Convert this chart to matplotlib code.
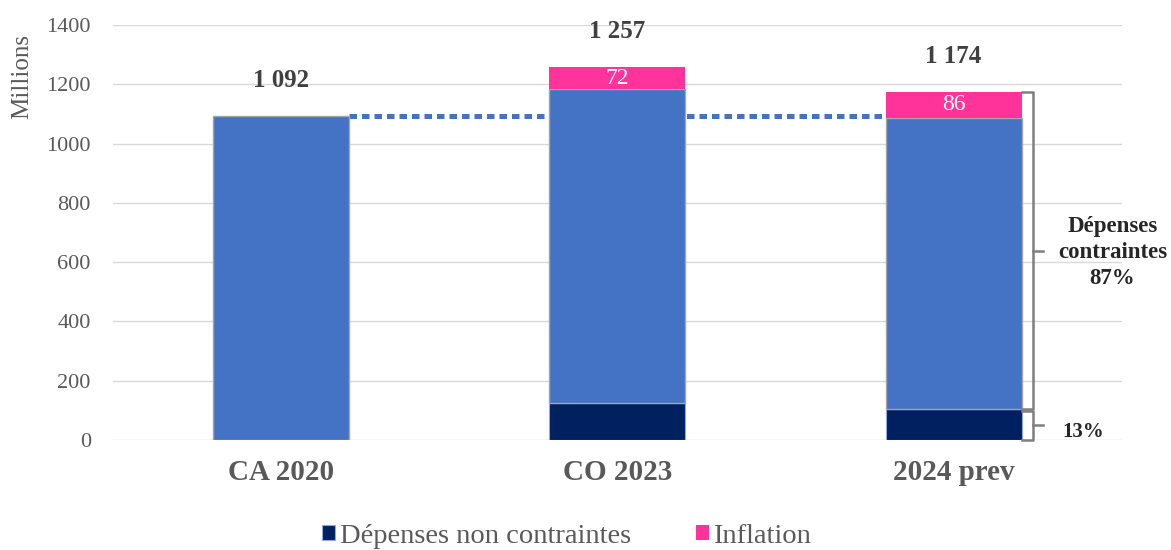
import matplotlib.pyplot as plt
import numpy as np

# données (millions)
categories = ["CA 2020", "CO 2023", "2024 prev"]
non_contraintes = [0, 125, 103]
contraintes = [1092, 1060, 985]
inflation = [0, 72, 86]
totaux = [1092, 1257, 1174]
labels_totaux = ["1 092", "1 257", "1 174"]
part_contraintes = "87%"
part_non_contraintes = "13%"

BLEU = "#4472C4"
MARINE = "#002060"
ROSE = "#FF3399"
GRIS = "#595959"

plt.rcParams['font.family'] = ['Liberation Serif', 'DejaVu Serif']

fig = plt.figure(figsize=(11.71, 5.5), dpi=100)
ax = fig.add_axes([0.0965, 0.2, 0.8615, 0.7545])

x = np.arange(len(categories))
w = 0.404
base = np.array(non_contraintes)
b1 = ax.bar(x, non_contraintes, w, color=MARINE, edgecolor="#8EA9DB", linewidth=0.8,
            label="Dépenses non contraintes", zorder=3)
b2 = ax.bar(x, contraintes, w, bottom=base, color=BLEU, edgecolor="#A6A6A6", linewidth=1,
            zorder=3)
b3 = ax.bar(x, inflation, w, bottom=base + np.array(contraintes), color=ROSE,
            linewidth=0, label="Inflation", zorder=3)

# ligne pointillée au niveau de 2020
ax.plot([x[0] + w / 2, x[2] - w / 2 + 0.02], [totaux[0], totaux[0]], color=BLEU,
        lw=3.6, linestyle=(0, (1.5, 1)), dash_capstyle='butt', zorder=2)

# étiquettes
for i in range(len(categories)):
    ax.text(x[i], totaux[i] + 120, labels_totaux[i], ha='center', va='center',
            fontsize=18, fontweight='bold', color="#404040")
    if inflation[i] > 0:
        ax.text(x[i], base[i] + contraintes[i] + inflation[i] / 2, str(inflation[i]),
                ha='center', va='center', fontsize=17, color='white')

# accolades sur 2024
i = 2
xr = x[i] + w / 2
xb = xr + 0.035
haut = totaux[i]
bas = non_contraintes[i]
ax.plot([xr, xb, xb, xr], [haut, haut, bas, bas], color="#7F7F7F", lw=1.8, zorder=4,
        clip_on=False)
ax.plot([xb, xb + 0.03], [(haut + bas) / 2] * 2, color="#7F7F7F", lw=1.8, clip_on=False)
ax.plot([xr, xb, xb, xr], [bas - 5, bas - 5, 0, 0], color="#7F7F7F", lw=1.8, zorder=4,
        clip_on=False)
ax.plot([xb, xb + 0.03], [bas / 2, bas / 2], color="#7F7F7F", lw=1.8, clip_on=False)
ax.text(xb + 0.235, (haut + bas) / 2 - 5, "Dépenses\ncontraintes\n" + part_contraintes,
        ha='center', va='center', fontsize=16.5, fontweight='bold', color="#262626",
        linespacing=1.3, clip_on=False)
ax.text(xb + 0.085, 27, part_non_contraintes, ha='left', va='center', fontsize=15,
        fontweight='bold', color="#262626", clip_on=False)

ax.set_xlim(-0.5, 2.5)
ax.set_ylim(0, 1400)
ax.set_yticks(range(0, 1401, 200))
ax.set_xticks(x)
ax.set_xticklabels(categories, fontsize=21, fontweight='bold', color=GRIS)
ax.tick_params(axis='y', labelsize=16, labelcolor=GRIS, length=0, pad=16)
ax.tick_params(axis='x', length=0, pad=14)
ax.set_ylabel("Millions", fontsize=18, color=GRIS)
ax.yaxis.set_label_coords(-0.09, 0.876)
ax.yaxis.label.set_va('center')
for s in ax.spines.values():
    s.set_visible(False)
ax.grid(axis='y', color="#D9D9D9", lw=1, zorder=0)
ax.set_axisbelow(True)

leg = fig.legend(handles=[b1, b3], loc='center', bbox_to_anchor=(0.484, 0.025), ncol=2,
                 frameon=False, fontsize=20.5, handlelength=0.45, handleheight=0.45,
                 handletextpad=0.15, columnspacing=2.3, labelcolor=GRIS)

fig.savefig("out.png", dpi=100)
